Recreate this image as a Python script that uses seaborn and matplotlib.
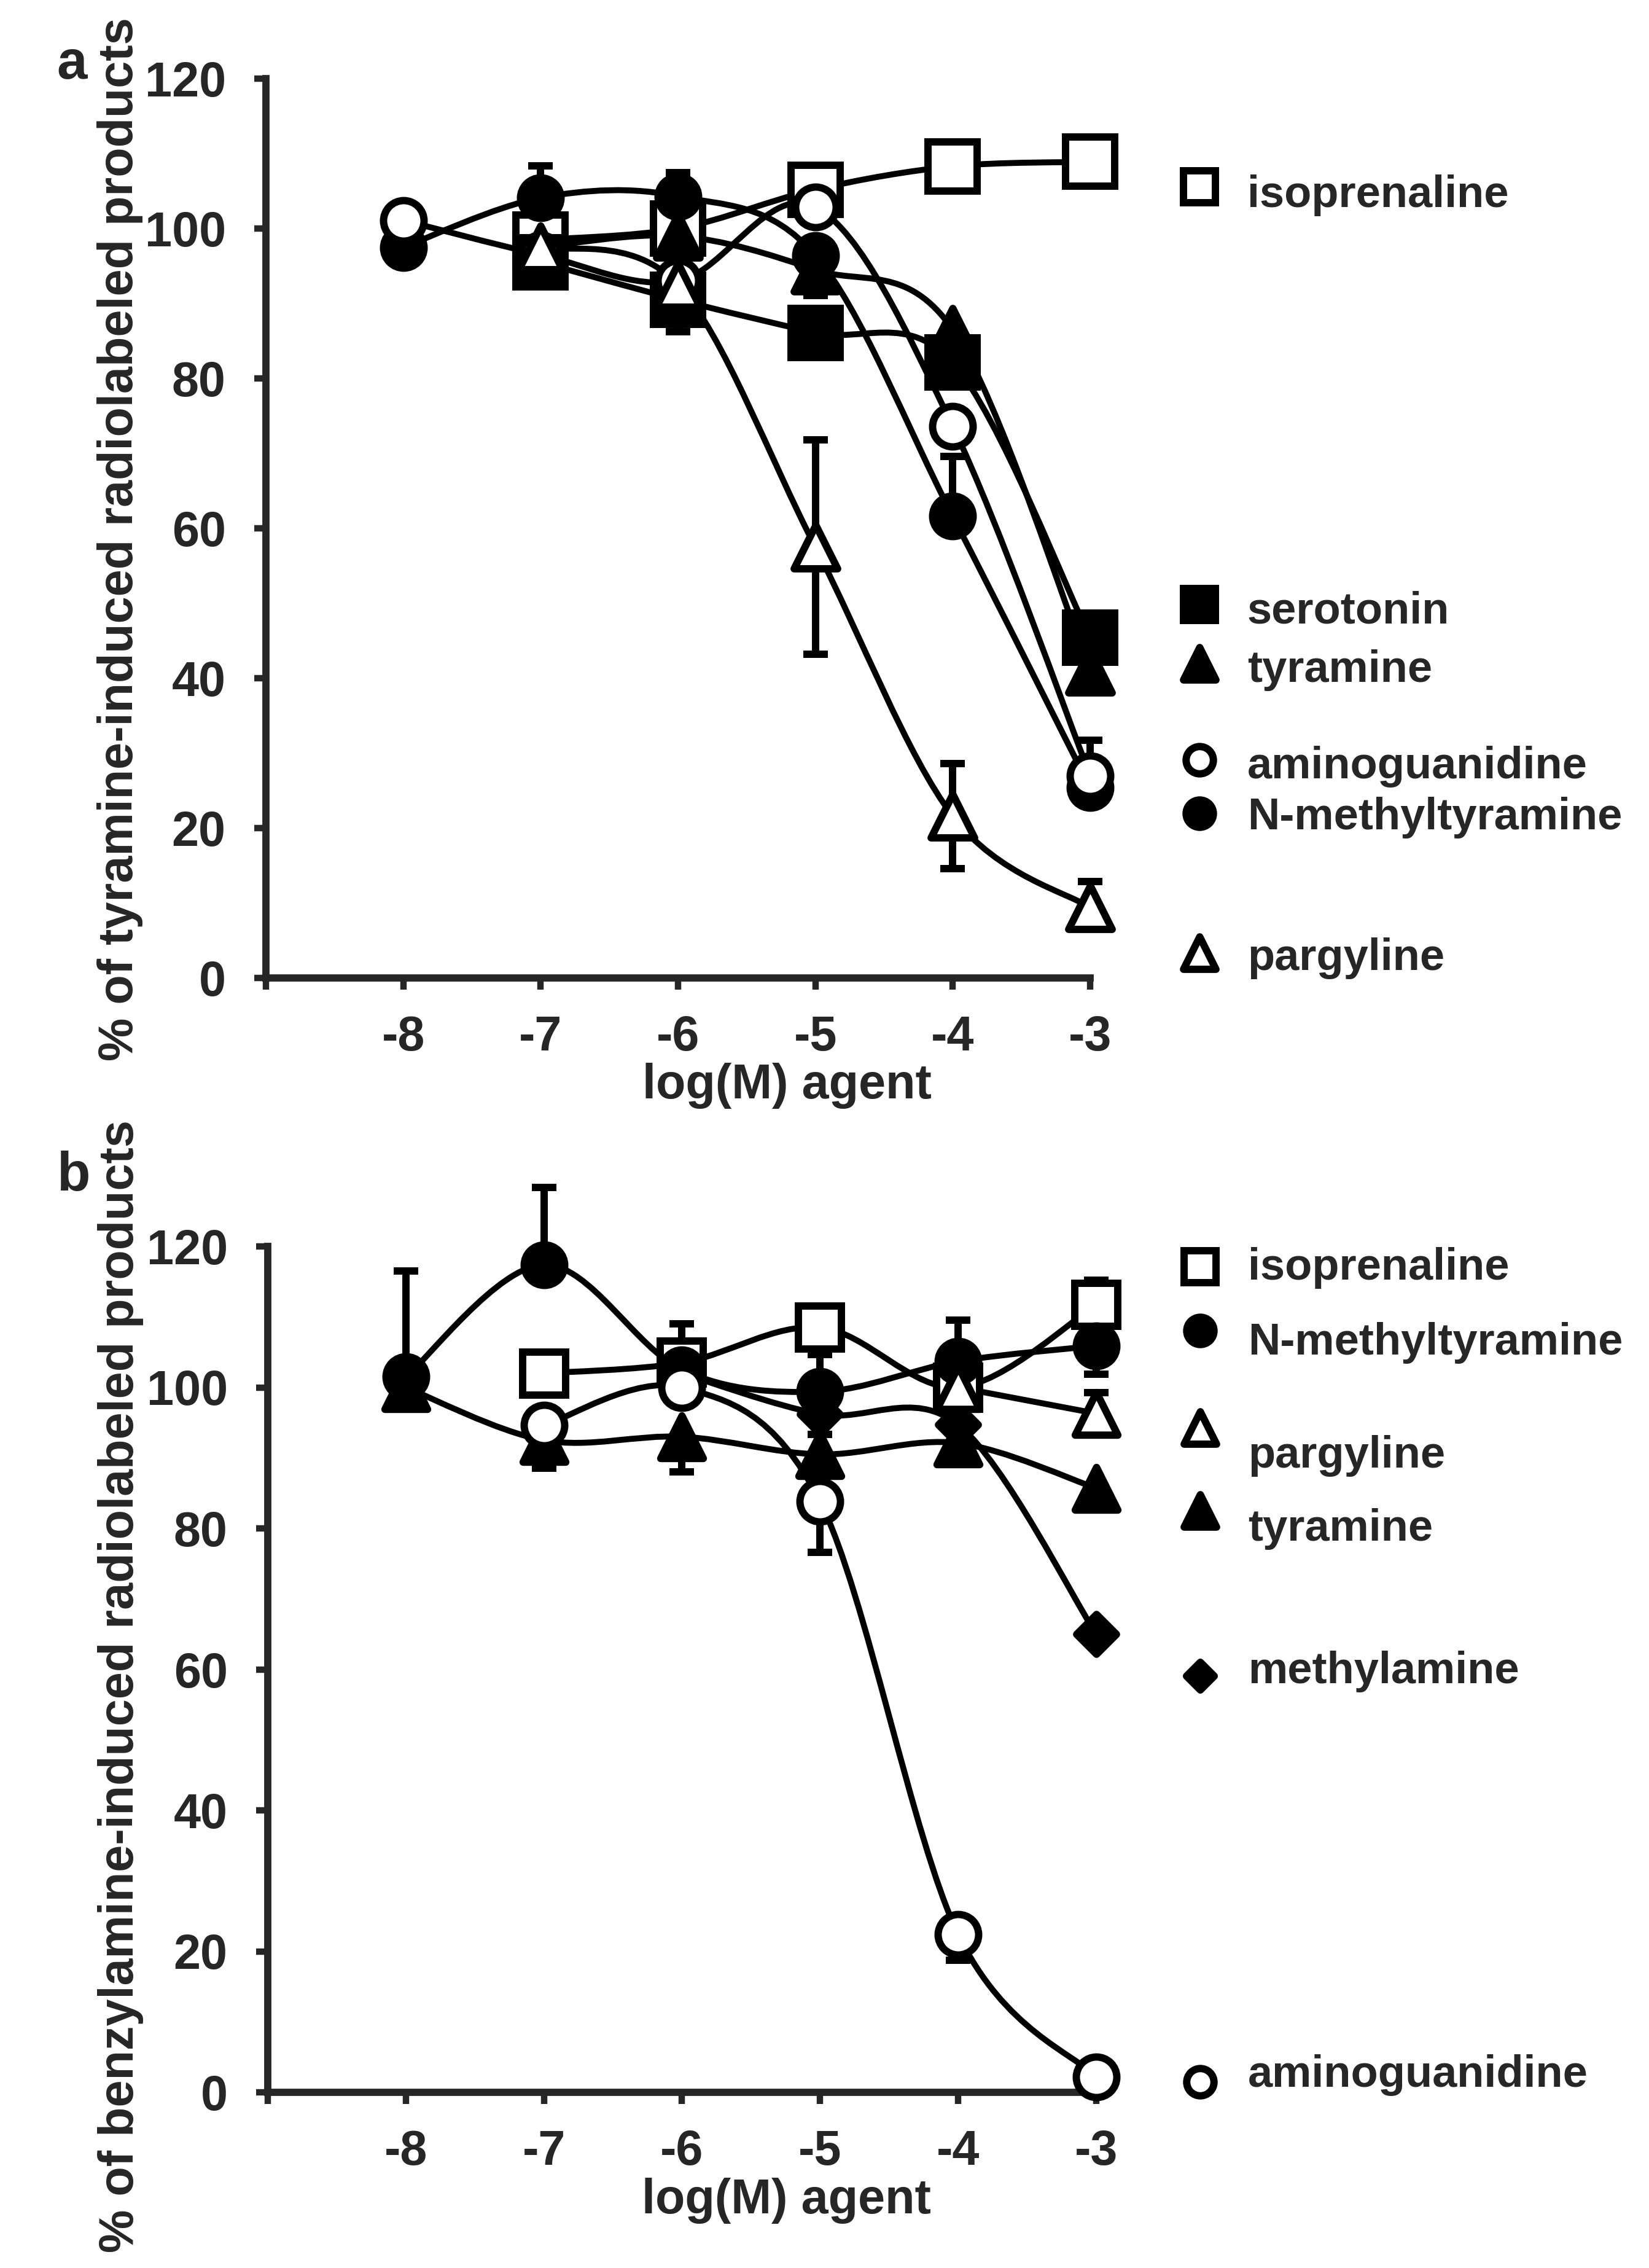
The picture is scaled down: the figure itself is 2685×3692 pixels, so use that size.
import numpy as np
import pandas as pd
import matplotlib
matplotlib.use("Agg")
import matplotlib.pyplot as plt
from matplotlib.path import Path
from matplotlib.patches import PathPatch
import seaborn as sns

nan = np.nan

# log(M) concentration of the agent
log_conc = [-8, -7, -6, -5, -4, -3]

# Panel a: % of tyramine-induced radiolabeled products
a_isoprenaline = [nan, 98.5, 100.0, 105.2, 108.3, 108.9]
a_serotonin = [nan, 95.5, 90.5, 86.1, 82.1, 45.4]
a_tyramine = [nan, 97.5, 99.0, 94.5, 86.5, 41.0]
a_nmethyltyramine = [97.5, 104.1, 104.3, 96.4, 61.6, 25.4]
a_aminoguanidine = [101.1, 96.5, 93.0, 102.9, 73.6, 27.0]
a_pargyline = [nan, 97.5, 92.5, 57.5, 21.6, 9.4]

# error bars (down, up)
a_isoprenaline_err = ([0, 0, 0, 0, 0, 0], [0, 0, 0, 1.0, 0, 1.5])
a_serotonin_err = ([0, 0, 4.3, 0, 0, 0], [0, 0, 0, 0, 0, 0])
a_tyramine_err = ([0, 0, 0, 3.4, 0, 0], [0, 3.0, 0, 0, 0, 0])
a_nmethyltyramine_err = ([0, 0, 0, 0, 0, 0], [0, 4.3, 3.2, 0, 8.0, 0])
a_aminoguanidine_err = ([0, 0, 0, 0, 0, 0], [0, 0, 0, 0, 0, 4.7])
a_pargyline_err = ([0, 0, 0, 14.3, 7.0, 0], [0, 0, 0, 14.3, 7.0, 3.5])

# Panel b: % of benzylamine-induced radiolabeled products
b_isoprenaline = [nan, 102.0, 103.5, 108.5, 100.0, 111.7]
b_tyramine = [100.0, 92.5, 93.0, 90.5, 92.1, 85.7]
b_methylamine = [nan, nan, 102.0, 96.2, 94.7, 65.0]
b_nmethyltyramine = [101.5, 117.4, 102.5, 99.4, 103.7, 105.9]
b_aminoguanidine = [nan, 94.6, 100.0, 83.8, 22.4, 2.2]
b_pargyline = [nan, nan, nan, nan, 100.0, 96.3]

b_isoprenaline_err = ([0, 0, 0, 0, 0, 0], [0, 0, 5.5, 0, 0, 3.5])
b_tyramine_err = ([0, 4.0, 5.0, 0, 3.0, 0], [0, 0, 0, 2.8, 0, 0])
b_methylamine_err = ([0, 0, 0, 0, 0, 0], [0, 0, 0, 0, 0, 0])
b_nmethyltyramine_err = ([0, 0, 0, 0, 0, 4.0], [15.0, 11.0, 0, 5.3, 5.8, 0])
b_aminoguanidine_err = ([0, 0, 0, 7.2, 3.7, 0], [0, 0, 0, 0, 0, 0])
b_pargyline_err = ([0, 0, 0, 0, 0, 0], [0, 0, 0, 0, 0, 3.0])

# marker shape and face colour per agent
STYLE = {
    "isoprenaline": ("s", "white"),
    "serotonin": ("s", "black"),
    "tyramine": ("^", "black"),
    "N-methyltyramine": ("o", "black"),
    "aminoguanidine": ("o", "white"),
    "pargyline": ("^", "white"),
    "methylamine": ("D", "black"),
}

# legend order and label placement (marker y, text baseline y)
a_legend = ["isoprenaline", "serotonin", "tyramine", "aminoguanidine",
            "N-methyltyramine", "pargyline"]
a_legend_marker_y = [105.6, 49.8, 42.0, 29.1, 22.0, 3.4]
a_legend_text_y = [102.9, 47.3, 39.5, 26.6, 19.8, 1.1]

b_legend = ["isoprenaline", "N-methyltyramine", "pargyline", "tyramine",
            "methylamine", "aminoguanidine"]
b_legend_marker_y = [117.1, 108.1, 94.3, 82.5, 59.1, 1.5]
b_legend_text_y = [115.3, 104.7, 88.6, 78.3, 58.0, 0.8]

LW = 7.0
MEW = 8.6


def smooth_path(xs, ys):
    # excel-like smoothed line: catmull-rom segments as cubic beziers
    p = np.array([(x, y) for x, y in zip(xs, ys) if not np.isnan(y)])
    verts = [p[0]]
    codes = [Path.MOVETO]
    n = len(p)
    for i in range(n - 1):
        p0 = p[i - 1] if i > 0 else p[i]
        p3 = p[i + 2] if i + 2 < n else p[i + 1]
        c1 = p[i] + (p[i + 1] - p0) / 6.0
        c2 = p[i + 1] - (p3 - p[i]) / 6.0
        verts += [c1, c2, p[i + 1]]
        codes += [Path.CURVE4] * 3
    return Path(verts, codes)


def draw_panel(ax, series, sizes, legend, legend_my, legend_ty, leg_x, ylabel,
               xlabel_pos, ylabel_pos):
    # lines
    for name, vals, err in series:
        patch = PathPatch(smooth_path(log_conc, vals), fill=False,
                          edgecolor="black", lw=LW, zorder=2,
                          capstyle="round", joinstyle="round", clip_on=False)
        ax.add_patch(patch)

    # error bars
    for name, vals, err in series:
        lo = np.array(err[0], dtype=float)
        hi = np.array(err[1], dtype=float)
        y = np.array(vals, dtype=float)
        for mask, yerr in ((lo > 0, [lo, np.zeros_like(lo)]),
                           (hi > 0, [np.zeros_like(hi), hi])):
            if not mask.any():
                continue
            ax.errorbar(np.array(log_conc)[mask], y[mask],
                        yerr=[yerr[0][mask], yerr[1][mask]], fmt="none",
                        ecolor="black", elinewidth=MEW, capsize=14.4,
                        capthick=MEW, zorder=2.5, clip_on=False)

    # markers
    for k, (name, vals, err) in enumerate(series):
        marker, face = STYLE[name]
        df = pd.DataFrame({"x": log_conc, "y": vals}).dropna()
        sns.scatterplot(data=df, x="x", y="y", marker=marker,
                        s=sizes[marker] ** 2, color=face, edgecolor="black",
                        linewidth=MEW, ax=ax, zorder=3 + k * 0.1,
                        clip_on=False, legend=False)
        ax.collections[-1].set_joinstyle("round" if marker != "s" else "miter")

    # hand placed legend
    leg_sizes = {"s": 38, "o": 32, "^": 38, "D": 23}
    for name, my, ty in zip(legend, legend_my, legend_ty):
        marker, face = STYLE[name]
        ax.scatter([leg_x[0]], [my], marker=marker, s=leg_sizes[marker] ** 2,
                   c=face, edgecolors="black", linewidths=MEW, clip_on=False,
                   zorder=5)
        ax.collections[-1].set_joinstyle("round" if marker != "s" else "miter")
        ax.text(leg_x[1], ty, name, fontsize=52, fontweight="bold",
                va="baseline", ha="left", clip_on=False)

    ax.set_xlim(-9, -3)
    ax.set_ylim(0, 120)
    ax.set_xticks(range(-9, -2))
    ax.set_xticklabels([""] + [str(v) for v in range(-8, -2)])
    ax.set_yticks(range(0, 121, 20))
    ax.set_yticklabels([str(v) for v in range(0, 121, 20)])
    ax.tick_params(axis="both", direction="out", length=14, width=7.5,
                   labelsize=57)
    ax.tick_params(axis="y", pad=33)
    ax.tick_params(axis="x", pad=29)
    for lab in ax.get_xticklabels() + ax.get_yticklabels():
        lab.set_fontweight("bold")
    sns.despine(ax=ax)
    for sp in ("left", "bottom"):
        ax.spines[sp].set_linewidth(8.5)
        ax.spines[sp].set_capstyle("projecting")

    ax.set_xlabel("log(M) agent", fontsize=57, fontweight="bold")
    ax.xaxis.set_label_coords(*xlabel_pos)
    ax.xaxis.label.set_va("baseline")
    ax.set_ylabel(ylabel, fontsize=57, fontweight="bold")
    ax.yaxis.set_label_coords(*ylabel_pos)
    ax.yaxis.label.set_va("bottom")


def main():
    sns.set_style("ticks")
    plt.rcParams["font.family"] = ["Liberation Sans", "DejaVu Sans"]
    plt.rcParams["font.weight"] = "bold"

    fig = plt.figure(figsize=(26.85, 36.92), dpi=100)
    W, H = 2685.0, 3692.0

    ax_a = fig.add_axes([433 / W, 1 - 1592 / H, 1342 / W, 1464 / H])
    ax_b = fig.add_axes([436 / W, 1 - 3406 / H, 1349 / W, 1377 / H])

    series_a = [
        ("isoprenaline", a_isoprenaline, a_isoprenaline_err),
        ("serotonin", a_serotonin, a_serotonin_err),
        ("tyramine", a_tyramine, a_tyramine_err),
        ("N-methyltyramine", a_nmethyltyramine, a_nmethyltyramine_err),
        ("aminoguanidine", a_aminoguanidine, a_aminoguanidine_err),
        ("pargyline", a_pargyline, a_pargyline_err),
    ]
    series_b = [
        ("isoprenaline", b_isoprenaline, b_isoprenaline_err),
        ("tyramine", b_tyramine, b_tyramine_err),
        ("methylamine", b_methylamine, b_methylamine_err),
        ("N-methyltyramine", b_nmethyltyramine, b_nmethyltyramine_err),
        ("aminoguanidine", b_aminoguanidine, b_aminoguanidine_err),
        ("pargyline", b_pargyline, b_pargyline_err),
    ]

    draw_panel(ax_a, series_a, {"s": 58, "o": 47.5, "^": 51, "D": 33},
               a_legend, a_legend_marker_y, a_legend_text_y, (-2.205, -1.856),
               "% of tyramine-induced radiolabeled products",
               (0.632, -0.134), (-0.149, 0.488))
    draw_panel(ax_b, series_b, {"s": 51, "o": 47.5, "^": 50, "D": 33},
               b_legend, b_legend_marker_y, b_legend_text_y, (-2.25, -1.90),
               "% of benzylamine-induced radiolabeled products",
               (0.626, -0.143), (-0.150, 0.48))

    # panel letters sit left of the rotated y labels
    fig.text(92 / W, 1 - 128 / H, "a", fontsize=64, fontweight="bold",
             ha="left", va="baseline")
    fig.text(92 / W, 1 - 1938 / H, "b", fontsize=64, fontweight="bold",
             ha="left", va="baseline")

    fig.savefig("out.png", dpi=100, facecolor="white")


if __name__ == "__main__":
    main()
